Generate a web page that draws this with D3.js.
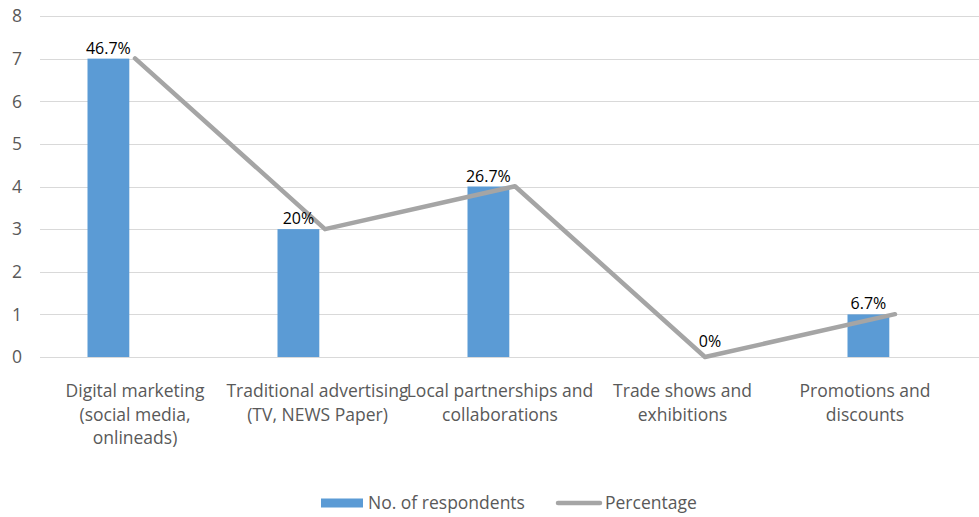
<!DOCTYPE html>
<html>
<head>
<meta charset="utf-8">
<script src="https://cdn.jsdelivr.net/npm/d3@7"></script>
<style>
  html, body { margin: 0; padding: 0; background: #fff; }
  svg { display: block; font-family: "Open Sans", "Noto Sans", sans-serif; }
</style>
</head>
<body>
<svg id="chart" width="979" height="517"></svg>
<script>
// Marketing channels and survey results
const categories = [
  "Digital marketing (social media, onlineads)",
  "Traditional advertising (TV, NEWS Paper)",
  "Local partnerships and collaborations",
  "Trade shows and exhibitions",
  "Promotions and discounts"
];
const categoryLines = [
  ["Digital marketing", "(social media,", "onlineads)"],
  ["Traditional advertising", "(TV, NEWS Paper)"],
  ["Local partnerships and", "collaborations"],
  ["Trade shows and", "exhibitions"],
  ["Promotions and", "discounts"]
];
const respondents = [7, 3, 4, 0, 1];
const percentages = [46.7, 20, 26.7, 0, 6.7];
const percentLabels = ["46.7%", "20%", "26.7%", "0%", "6.7%"];
const yTicks = [0, 1, 2, 3, 4, 5, 6, 7, 8];
const totalRespondents = 15;
const legendNames = ["No. of respondents", "Percentage"];

const svg = d3.select("#chart");
const W = 979, H = 517;
const margin = { top: 16, right: -11, bottom: 160, left: 40 };
const plotW = W - margin.left - margin.right;

const x = d3.scaleBand().domain(categories)
  .range([margin.left, W - margin.right]).padding(0);
const bw = x.bandwidth();
const y = d3.scaleLinear().domain([0, 8]).range([H - margin.bottom, margin.top]);
// Percentage series on a hidden secondary scale aligned with counts
const y2 = d3.scaleLinear().domain([0, 8 * 100 / totalRespondents]).range(y.range());

const barColor = "#5b9bd5";
const lineColor = "#a5a5a5";
const textColor = "#595959";

// Gridlines
svg.append("g").selectAll("line").data(yTicks).join("line")
  .attr("x1", margin.left).attr("x2", W)
  .attr("y1", d => Math.round(y(d)) + 0.5).attr("y2", d => Math.round(y(d)) + 0.5)
  .attr("stroke", "#d9d9d9").attr("stroke-width", 1);

// Y axis labels
svg.append("g").selectAll("text").data(yTicks).join("text")
  .attr("x", 22).attr("y", d => y(d))
  .attr("dy", "0.36em")
  .attr("text-anchor", "end")
  .attr("fill", textColor)
  .style("font-size", "17.5px")
  .text(d => d);

// Bars
const barW = bw * 0.22;
const barX = i => x(categories[i]) + bw / 2 - bw * 0.25;
svg.append("g").selectAll("rect").data(respondents).join("rect")
  .attr("x", (d, i) => barX(i))
  .attr("y", d => y(d))
  .attr("width", barW)
  .attr("height", d => y(0) - y(d))
  .attr("fill", barColor);

// Percentage line
const line = d3.line()
  .x((d, i) => x(categories[i]) + bw / 2)
  .y(d => y2(d));
svg.append("path").datum(percentages)
  .attr("d", line)
  .attr("fill", "none")
  .attr("stroke", lineColor)
  .attr("stroke-width", 4.5)
  .attr("stroke-linejoin", "round")
  .attr("stroke-linecap", "round");

// Data labels
svg.append("g").selectAll("text").data(percentages).join("text")
  .attr("x", (d, i) => respondents[i] > 0 ? barX(i) + barW / 2 : x(categories[i]) + bw / 2 + 5)
  .attr("y", (d, i) => respondents[i] > 0 ? y(respondents[i]) - 5 : y2(d) - 10)
  .attr("text-anchor", "middle")
  .attr("fill", "#000")
  .style("font-size", "16px")
  .text((d, i) => percentLabels[i]);

// Category labels
const labelX = d3.scalePoint().domain(categories)
  .range([x(categories[0]) + bw / 2, x(categories[categories.length - 1]) + bw / 2 - 30]);
const catG = svg.append("g").selectAll("text").data(categories).join("text")
  .attr("text-anchor", "middle")
  .attr("fill", textColor)
  .style("font-size", "17.5px");
catG.selectAll("tspan").data((d, i) => categoryLines[i].map(t => ({ t, c: d })))
  .join("tspan")
  .attr("x", d => labelX(d.c))
  .attr("y", (d, j) => y(0) + 40 + j * 23.7)
  .text(d => d.t);

// Legend
const lg = svg.append("g");
lg.append("rect").attr("x", 321).attr("y", 498.5).attr("width", 42).attr("height", 9)
  .attr("fill", barColor);
lg.append("text").attr("x", 368).attr("y", 509).attr("fill", textColor)
  .style("font-size", "17.5px").text(legendNames[0]);
lg.append("line").attr("x1", 558).attr("x2", 600).attr("y1", 503).attr("y2", 503)
  .attr("stroke", lineColor).attr("stroke-width", 4.5).attr("stroke-linecap", "round");
lg.append("text").attr("x", 605).attr("y", 509).attr("fill", textColor)
  .style("font-size", "17.5px").text(legendNames[1]);
</script>
</body>
</html>
